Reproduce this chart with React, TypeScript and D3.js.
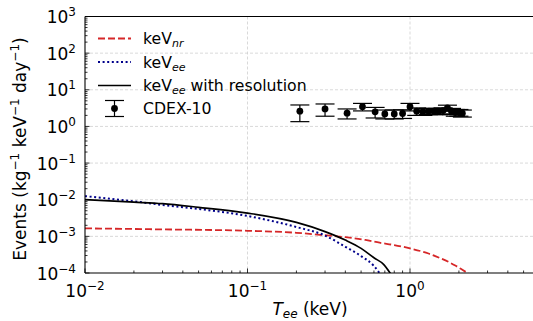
import React from "react";
import * as d3 from "d3";

const W = 533;
const H = 321;

// keV_nr curve (red dashed)
const nrE = [0.01, 0.03, 0.1, 0.2, 0.28, 0.4, 0.53, 0.65, 0.8, 1.0, 1.3, 1.53, 1.75, 1.9, 2.1, 2.3];
const nrR = [1.65e-3, 1.55e-3, 1.42e-3, 1.25e-3, 1.1e-3, 9.5e-4, 8e-4, 6.7e-4, 5.8e-4, 4.7e-4, 3.4e-4, 2.56e-4, 1.95e-4, 1.6e-4, 1.22e-4, 9.5e-5];

// keV_ee curve (blue dotted)
const eeE = [0.01, 0.02, 0.03, 0.05, 0.1, 0.2, 0.3, 0.4, 0.5, 0.6, 0.66];
const eeR = [1.25e-2, 9e-3, 7.2e-3, 5.6e-3, 3.6e-3, 1.8e-3, 1.05e-3, 5.2e-4, 2.9e-4, 1.55e-4, 9e-5];

// keV_ee with resolution (black solid)
const resE = [0.01, 0.02, 0.03, 0.05, 0.1, 0.2, 0.3, 0.4, 0.5, 0.6, 0.69, 0.76];
const resR = [1.0e-2, 8.6e-3, 7.8e-3, 6.2e-3, 4.3e-3, 2.4e-3, 1.35e-3, 7.9e-4, 4.7e-4, 2.6e-4, 1.7e-4, 9.5e-5];

// CDEX-10 data points
const cdexE = [0.21, 0.3, 0.41, 0.51, 0.61, 0.7, 0.8, 0.9, 1.0, 1.1, 1.2, 1.3, 1.4, 1.5, 1.6, 1.7, 1.8, 1.9, 2.0, 2.1];
const cdexR = [2.6, 3.0, 2.3, 3.45, 2.5, 2.2, 2.2, 2.25, 3.45, 2.6, 2.5, 2.6, 2.6, 2.6, 2.7, 3.2, 2.6, 2.4, 2.4, 2.3];
const cdexErr = [1.25, 1.1, 0.7, 0.8, 0.8, 0.6, 0.6, 0.6, 0.8, 0.6, 0.5, 0.5, 0.5, 0.5, 0.5, 0.6, 0.5, 0.5, 0.5, 0.5];

const xMajor = [0.01, 0.1, 1];
const xMajorExp = ["−2", "−1", "0"];
const yMajor = [1e-4, 1e-3, 1e-2, 1e-1, 1, 10, 100, 1000];
const yMajorExp = ["−4", "−3", "−2", "−1", "0", "1", "2", "3"];

const legendLabels = ["nr", "ee", "ee"];

export default function App() {
  const left = 85;
  const top = 16.5;
  const bottom = 273;
  const dec = 162.5;
  const x = d3.scaleLog().domain([0.01, 6]).range([left, left + dec * Math.log10(600)]);
  const y = d3.scaleLog().domain([1e-4, 1e3]).range([bottom, top]);
  const right = W + 5;

  const line = (xs: number[], ys: number[]) =>
    d3
      .line<number>()
      .x((_, i) => x(xs[i]))
      .y((_, i) => y(ys[i]))
      .curve(d3.curveMonotoneX)(xs.map((_, i) => i)) || "";

  const xMinor: number[] = [];
  for (const d of [0.01, 0.1, 1]) for (let k = 2; k <= 9; k++) if (d * k <= 6) xMinor.push(d * k);
  const yMinor: number[] = [];
  for (const d of [1e-4, 1e-3, 1e-2, 1e-1, 1, 10, 100]) for (let k = 2; k <= 9; k++) yMinor.push(d * k);

  const red = "#d62728";
  const blue = "#00008b";
  const fs = 17;
  const ss = 12;
  const lfs = 15.7;
  const lss = 11;

  const legY = [38.5, 62, 85.5, 108.5];

  return (
    <svg
      width={W}
      height={H}
      style={{ position: "absolute", left: 0, top: 0, background: "#fff", fontFamily: "'DejaVu Sans', sans-serif" }}
    >
      <defs>
        <clipPath id="plot">
          <rect x={left} y={top} width={right - left} height={bottom - top} />
        </clipPath>
      </defs>
      {/* grid */}
      <g stroke="#cfcfcf" strokeWidth={0.8} strokeDasharray="3,2">
        {xMajor.slice(1).map((v) => (
          <line key={"gx" + v} x1={x(v)} x2={x(v)} y1={top} y2={bottom} />
        ))}
        {yMajor.slice(1, -1).map((v) => (
          <line key={"gy" + v} x1={left} x2={right} y1={y(v)} y2={y(v)} />
        ))}
      </g>
      {/* curves */}
      <g clipPath="url(#plot)" fill="none">
        <path d={line(nrE, nrR)} stroke={red} strokeWidth={1.8} strokeDasharray="7,3" />
        <path d={line(eeE, eeR)} stroke={blue} strokeWidth={2} strokeDasharray="2,2.6" />
        <path d={line(resE, resR)} stroke="#000" strokeWidth={1.7} />
      </g>
      {/* data */}
      <g stroke="#000" strokeWidth={1.2}>
        {cdexE.map((e, i) => {
          const cx = x(e);
          const y1 = y(cdexR[i] + cdexErr[i]);
          const y2 = y(cdexR[i] - cdexErr[i]);
          return (
            <g key={"d" + i}>
              <line x1={cx} x2={cx} y1={y1} y2={y2} />
              <line x1={cx - 9.5} x2={cx + 9.5} y1={y1} y2={y1} />
              <line x1={cx - 9.5} x2={cx + 9.5} y1={y2} y2={y2} />
              <circle cx={cx} cy={y(cdexR[i])} r={3.4} fill="#000" stroke="none" />
            </g>
          );
        })}
      </g>
      {/* spines */}
      <g stroke="#000" strokeWidth={1.1} fill="none">
        <line x1={left} x2={left} y1={top} y2={bottom} />
        <line x1={left} x2={right} y1={bottom} y2={bottom} />
        <line x1={left} x2={right} y1={top} y2={top} />
      </g>
      {/* ticks */}
      <g stroke="#000" strokeWidth={0.8}>
        {xMajor.map((v) => (
          <line key={"xt" + v} x1={x(v)} x2={x(v)} y1={bottom} y2={bottom - 4.5} />
        ))}
        {xMinor.map((v) => (
          <line key={"xm" + v} x1={x(v)} x2={x(v)} y1={bottom} y2={bottom - 2.5} />
        ))}
        {yMajor.map((v) => (
          <line key={"yt" + v} x1={left} x2={left + 4.5} y1={y(v)} y2={y(v)} />
        ))}
        {yMinor.map((v) => (
          <line key={"ym" + v} x1={left} x2={left + 2.5} y1={y(v)} y2={y(v)} />
        ))}
      </g>
      {/* tick labels */}
      <g fontSize={fs} fill="#000">
        {xMajor.map((v, i) => (
          <text key={"xl" + v} x={x(v)} y={297} textAnchor="middle">
            10<tspan fontSize={ss} dy={-7}>{xMajorExp[i]}</tspan>
          </text>
        ))}
        {yMajor.map((v, i) => (
          <text key={"yl" + v} x={76} y={y(v) + 6.5} textAnchor="end">
            10<tspan fontSize={ss} dy={-7}>{yMajorExp[i]}</tspan>
          </text>
        ))}
      </g>
      {/* axis labels */}
      <text x={(left + 535) / 2} y={314.5} textAnchor="middle" fontSize={fs}>
        <tspan fontStyle="italic">T</tspan>
        <tspan fontStyle="italic" fontSize={ss} dy={3.5}>ee</tspan>
        <tspan dy={-3.5}> (keV)</tspan>
      </text>
      <text transform={`translate(26,149) rotate(-90)`} textAnchor="middle" fontSize={fs}>
        Events (kg<tspan fontSize={ss} dy={-7}>−1</tspan>
        <tspan dy={7}> keV</tspan>
        <tspan fontSize={ss} dy={-7}>−1</tspan>
        <tspan dy={7}> day</tspan>
        <tspan fontSize={ss} dy={-7}>−1</tspan>
        <tspan dy={7}>)</tspan>
      </text>
      {/* legend */}
      <g fontSize={lfs}>
        <line x1={98} x2={131} y1={legY[0]} y2={legY[0]} stroke={red} strokeWidth={1.8} strokeDasharray="7,3" />
        <line x1={98} x2={131} y1={legY[1]} y2={legY[1]} stroke={blue} strokeWidth={2} strokeDasharray="2,2.6" />
        <line x1={98} x2={131} y1={legY[2]} y2={legY[2]} stroke="#000" strokeWidth={1.7} />
        <g stroke="#000" strokeWidth={1.2}>
          <line x1={114.5} x2={114.5} y1={legY[3] - 8} y2={legY[3] + 8} />
          <line x1={105} x2={124} y1={legY[3] - 8} y2={legY[3] - 8} />
          <line x1={105} x2={124} y1={legY[3] + 8} y2={legY[3] + 8} />
          <circle cx={114.5} cy={legY[3]} r={3.4} fill="#000" stroke="none" />
        </g>
        {legendLabels.map((s, i) => (
          <text key={"lg" + i} x={143} y={legY[i] + 5.5}>
            keV<tspan fontStyle="italic" fontSize={lss} dy={3}>{s}</tspan>
            {i === 2 ? <tspan dy={-3}> with resolution</tspan> : null}
          </text>
        ))}
        <text x={143} y={legY[3] + 5.5}>CDEX-10</text>
      </g>
    </svg>
  );
}
